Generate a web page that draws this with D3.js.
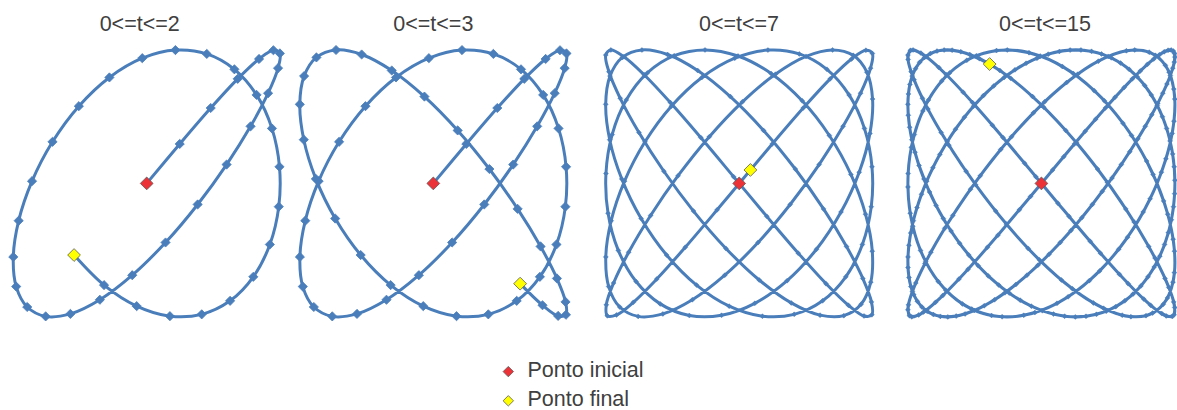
<!DOCTYPE html>
<html>
<head>
<meta charset="utf-8">
<script src="https://cdn.jsdelivr.net/npm/d3@7/dist/d3.min.js"></script>
<style>
  html, body { margin: 0; padding: 0; background: #ffffff; }
  svg { display: block; }
  text { font-family: "Liberation Sans", Arial, sans-serif; fill: #404040; }
</style>
</head>
<body>
<svg id="chart" width="1177" height="410"></svg>
<script>
// Lissajous curve x = sin(5t), y = sin(6t), sampled every 0.05 in t
const frequencies = [5, 6];          // [x frequency, y frequency]
const tStep = 0.05;
const tEnds = [2, 3, 6.3, 15];       // last sampled t of each panel
const panelTitles = ["0<=t<=2", "0<=t<=3", "0<=t<=7", "0<=t<=15"];
const legendLabels = ["Ponto inicial", "Ponto final"];
const axisDomain = [-1, 1];

// layout of the four panels (plot-area centre and half size in px)
const panelCentersX = [146.7, 433.3, 739.2, 1041.4];
const titleCentersX = [139.7, 433.3, 739.0, 1045.0];
const panelCenterY = 183.4;
const panelHalf = 133.5;
const markerSizes = [4.6, 4.6, 2.5, 2.5];

const blue = "#4a7ebb";
const startFill = "#ec3237";
const endFill = "#ffff00";

const svg = d3.select("#chart");

function sampleCurve(tEnd) {
  const n = Math.round(tEnd / tStep);
  return d3.range(n + 1).map(k => {
    const t = k * tStep;
    return { t, x: Math.sin(frequencies[0] * t), y: Math.sin(frequencies[1] * t) };
  });
}

function diamond(r) {
  return `M0,${-r}L${r},0L0,${r}L${-r},0Z`;
}

tEnds.forEach((tEnd, i) => {
  const cx = panelCentersX[i];
  const x = d3.scaleLinear().domain(axisDomain).range([cx - panelHalf, cx + panelHalf]);
  const y = d3.scaleLinear().domain(axisDomain).range([panelCenterY + panelHalf, panelCenterY - panelHalf]);
  const pts = sampleCurve(tEnd);

  const g = svg.append("g").attr("class", "panel");

  g.append("text")
    .attr("x", titleCentersX[i])
    .attr("y", 31)
    .attr("text-anchor", "middle")
    .style("font-size", "21.5px")
    .text(panelTitles[i]);

  const line = d3.line()
    .x(d => x(d.x))
    .y(d => y(d.y))
    .curve(d3.curveCatmullRom.alpha(0.5));

  g.append("path")
    .datum(pts)
    .attr("d", line)
    .attr("fill", "none")
    .attr("stroke", blue)
    .attr("stroke-width", 3)
    .attr("stroke-linejoin", "round");

  g.selectAll("path.mk")
    .data(pts.slice(1, -1))
    .join("path")
    .attr("class", "mk")
    .attr("transform", d => `translate(${x(d.x)},${y(d.y)})`)
    .attr("d", diamond(markerSizes[i]))
    .attr("fill", blue)
    .attr("stroke", blue)
    .attr("stroke-width", i < 2 ? 0.8 : 0.4);

  const first = pts[0], last = pts[pts.length - 1];
  g.append("path")
    .attr("transform", `translate(${x(last.x)},${y(last.y)})`)
    .attr("d", diamond(6.4))
    .attr("fill", endFill)
    .attr("stroke", "#595959")
    .attr("stroke-width", 0.8);
  g.append("path")
    .attr("transform", `translate(${x(first.x)},${y(first.y)})`)
    .attr("d", diamond(6.4))
    .attr("fill", startFill)
    .attr("stroke", "#595959")
    .attr("stroke-width", 0.8);
});

// legend
const legendFills = [startFill, endFill];
const legend = svg.append("g").attr("class", "legend");
legendLabels.forEach((label, i) => {
  const yy = 371.6 + i * 29.2;
  legend.append("path")
    .attr("transform", `translate(508.3,${yy})`)
    .attr("d", diamond(5.2))
    .attr("fill", legendFills[i])
    .attr("stroke", "#595959")
    .attr("stroke-width", 0.8);
  legend.append("text")
    .attr("x", 527.5)
    .attr("y", yy + 5.6)
    .style("font-size", "21.5px")
    .text(label);
});
</script>
</body>
</html>
